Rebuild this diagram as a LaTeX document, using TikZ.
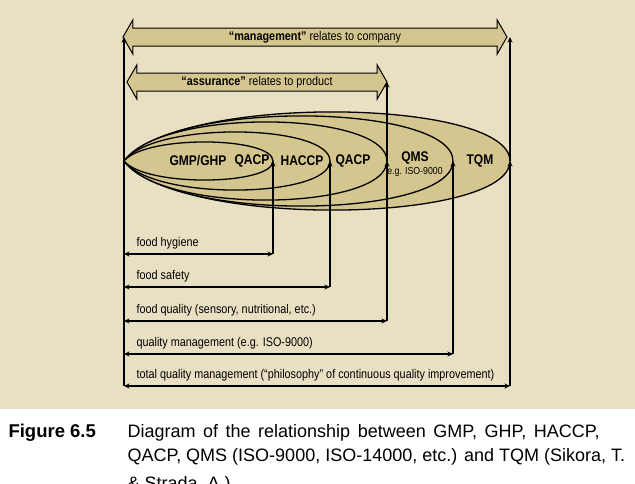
\documentclass[tikz,border=0pt]{standalone}
\usepackage{fontspec}
\setmainfont{Liberation Sans}
\newfontfamily\condf[FakeStretch=0.86]{Liberation Sans}
\usetikzlibrary{arrows.meta}
\usetikzlibrary{shapes.arrows}
\usetikzlibrary{calc}
\definecolor{paper}{HTML}{E9E0C3}
\definecolor{ochre}{HTML}{D5C68F}
\tikzset{
  arr/.style={-{Stealth[length=5.5pt,width=5pt]}},
  dbl/.style={{Stealth[length=5.5pt,width=5pt]}-{Stealth[length=5.5pt,width=5pt]}},
  band/.style={double arrow, draw, fill=ochre, line width=1pt,
    double arrow head extend=8pt, double arrow tip angle=120,
    inner xsep=0pt, inner ysep=3pt, text height=8.5pt, text depth=2.5pt,
    font=\condf\fontsize{12.6}{14}\selectfont},
  lens/.style={draw, fill=ochre, line width=1.3pt},
  abbr/.style={font=\condf\bfseries\fontsize{14}{16}\selectfont, inner sep=0pt},
  lbl/.style={font=\condf\fontsize{12.6}{14}\selectfont, anchor=base west, inner sep=0pt},
  capt/.style={font=\fontsize{18}{24}\selectfont, anchor=base west, inner sep=0pt},
}

\begin{document}
\begin{tikzpicture}[x=1pt, y=-1pt, line width=1.1pt]
    \fill[paper] (0,0) rectangle (635,409);
    \useasboundingbox (0,0) rectangle (635,483);

    % the two bands on top
    \node[band, minimum height=384pt] (mgmt) at (315,37) {{\bfseries “management”} relates to company};
    \node[band, minimum height=260pt] (assur) at (257,82) {{\bfseries “assurance”} relates to product};

    % nested lenses, outermost first, all meeting at the left
    \foreach \r/\h [count=\i, evaluate=\r as \cx using 124+0.15*(\r-124)]
        in {510/49, 453/45, 387/39, 330/29, 273/19} {
        \draw[lens] (124,161) .. controls (\cx,{161-1.4*\h}) and (\r,{161-1.27*\h}) .. (\r,161)
            .. controls (\r,{161+1.27*\h}) and (\cx,{161+1.4*\h}) .. cycle;
        \coordinate (e\i) at (\r,161);
    }
    \node[abbr] (gmp) at (198,161) {GMP/GHP};
    \node[abbr] (qacpa) at (252,161) {QACP};
    \node[abbr] (haccp) at (302,161) {HACCP};
    \node[abbr] (qacpb) at (353,161) {QACP};
    \node[abbr] (qms) at (415,158) {QMS};
    \node[font=\condf\fontsize{10.2}{12}\selectfont, inner sep=0pt] (iso) at (415,172) {e.g. ISO-9000};
    \node[abbr] (tqm) at (480,161) {TQM};

    % scopes below the lenses
    \foreach \i/\y/\txt in {5/254/{food hygiene}, 4/287/{food safety},
        3/321/{food quality (sensory, nutritional, etc.)},
        2/354/{quality management (e.g. ISO-9000)},
        1/386/{total quality management (“philosophy” of continuous quality improvement)}} {
        \coordinate (b\i) at (124,\y);
        \draw[dbl] (b\i) -- (e\i |- b\i);
        \draw[arr] (e\i |- b\i) -- (e\i);
        \node[lbl] (t\i) at (136,\y-8) {\txt};
    }
    \draw[arr] (b1) -- (b1 |- mgmt);
    \draw[arr] (e1) -- (e1 |- mgmt);
    \draw[arr] (e3) -- (e3 |- assur);

    % caption
    \node[capt, font=\fontsize{18.5}{24}\selectfont\bfseries] (fig) at (8,437) {Figure 6.5};
    \node[capt] (cap1) at (127,437) {\makebox[472pt][s]{Diagram of the relationship between GMP, GHP, HACCP,}};
    \node[capt] (cap2) at (127,461) {QACP, QMS (ISO-9000, ISO-14000, etc.) and TQM (Sikora, T.};
    \node[capt] (cap3) at (127,489) {\& Strada, A.)};
\end{tikzpicture}
\end{document}
